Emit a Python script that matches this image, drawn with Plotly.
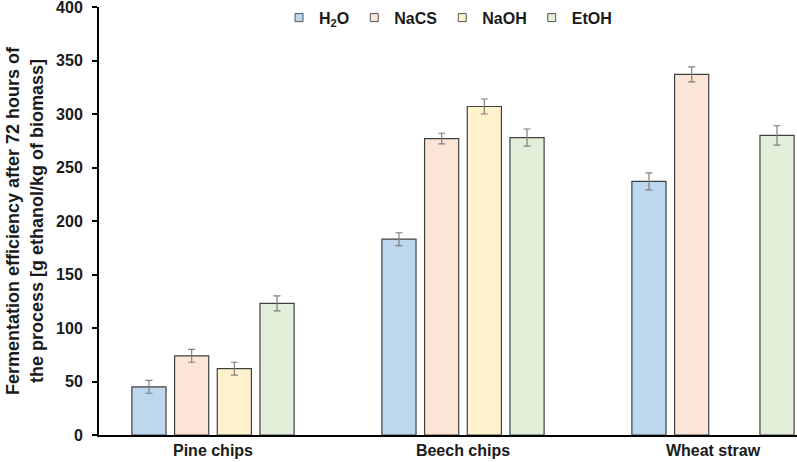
import plotly.graph_objects as go

categories = ["Pine chips", "Beech chips", "Wheat straw"]
series_names = ["H<sub>2</sub>O", "NaCS", "NaOH", "EtOH"]
h2o = [45, 183, 237]
nacs = [74, 277, 337]
naoh = [62, 307, None]
etoh = [123, 278, 280]
h2o_err = [6, 6, 8]
nacs_err = [6, 5, 7]
naoh_err = [6, 7, 0]
etoh_err = [7, 8, 9]

values = [h2o, nacs, naoh, etoh]
errors = [h2o_err, nacs_err, naoh_err, etoh_err]
colors = ["#BDD7EE", "#FBE5D6", "#FFF2CC", "#E2F0D9"]

font = "Liberation Sans, Arial, sans-serif"
txt = "#1a1a1a"

fig = go.Figure()
for name, vals, errs, col in zip(series_names, values, errors, colors):
    fig.add_trace(go.Bar(
        x=categories, y=vals, name=name, showlegend=False,
        marker=dict(color=col, line=dict(color="#404040", width=1.2)),
        error_y=dict(type="data", array=errs, visible=True,
                     color="#7F7F7F", thickness=1.2, width=3.5),
    ))
    # small square legend entry
    fig.add_trace(go.Scatter(
        x=[categories[0]], y=[None], mode="markers", name=name,
        marker=dict(symbol="square", size=8, color=col,
                    line=dict(color="#555555", width=1)),
    ))

fig.update_layout(
    barmode="group",
    bargap=0.317,
    bargroupgap=0.2,
    width=797, height=462,
    margin=dict(l=99, r=0, t=7, b=27),
    plot_bgcolor="white",
    paper_bgcolor="white",
    font=dict(family=font, size=16, color=txt),
    showlegend=True,
    legend=dict(orientation="h", x=0.5, xanchor="center", y=0.975, yanchor="middle",
                font=dict(family=font, size=16, color=txt, weight="bold"),
                itemwidth=30, tracegroupgap=0, bgcolor="rgba(0,0,0,0)"),
)
fig.update_xaxes(
    range=[-0.456, 2.336],
    showline=True, linecolor="black", linewidth=2,
    ticks="", showgrid=False, automargin=False,
    ticklabeloverflow="allow",
    tickfont=dict(family=font, size=16, color=txt, weight="bold"),
)
fig.update_yaxes(
    range=[0, 400], dtick=50,
    showline=True, linecolor="black", linewidth=2,
    ticks="outside", ticklen=5, tickcolor="black", tickwidth=1.5,
    showgrid=False, zeroline=False, automargin=False,
    ticklabeloverflow="allow", ticklabelstandoff=6,
    tickfont=dict(family=font, size=16, color=txt, weight="bold"),
    title=dict(text="Fermentation efficiency after 72 hours of<br>the process [g ethanol/kg of biomass]",
               font=dict(family=font, size=18, color=txt, weight="bold"),
               standoff=8),
)

fig.write_html("out.html", config={"displayModeBar": False},
               post_script="document.body.style.margin='0';")
